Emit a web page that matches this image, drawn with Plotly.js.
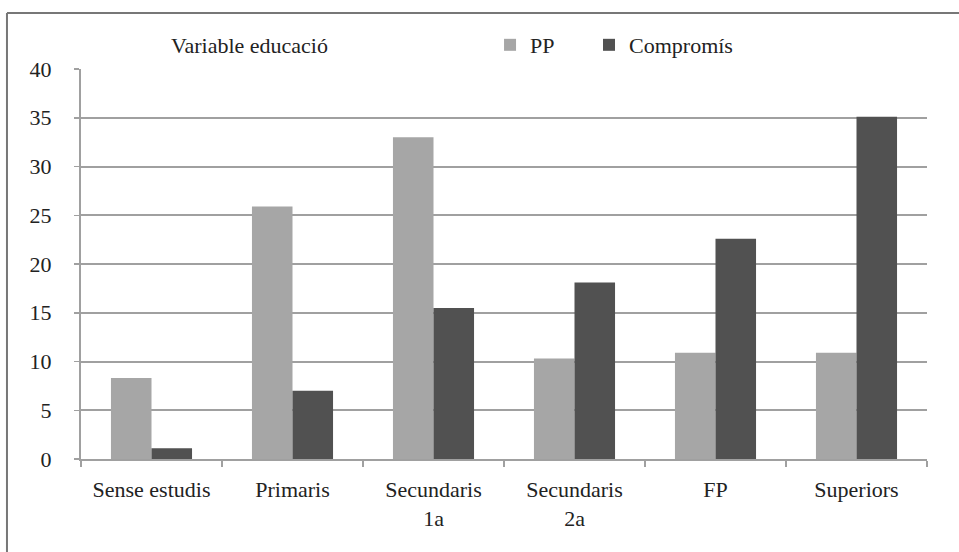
<!DOCTYPE html>
<html>
<head>
<meta charset="utf-8">
<script src="https://cdn.plot.ly/plotly-3.0.1.min.js"></script>
<style>
html,body{margin:0;padding:0;background:#fff;}
#chart{width:959px;height:552px;}
</style>
</head>
<body>
<div id="chart"></div>
<script>
const categories = ["Sense estudis", "Primaris", "Secundaris<br>1a", "Secundaris<br>2a", "FP", "Superiors"];
const ppValues = [8.3, 25.9, 33.0, 10.3, 10.9, 10.9];
const compromisValues = [1.1, 7.0, 15.5, 18.1, 22.6, 35.1];
const yTicks = [0, 5, 10, 15, 20, 25, 30, 35, 40];
const seriesNames = ["PP", "Compromís"];
const chartTitle = "Variable educació";

const font = "Liberation Serif";
const fs = 22;
const textColor = "#222";

const traces = [
  {type: "bar", name: seriesNames[0], x: categories, y: ppValues,
   marker: {color: "#a6a6a6"}, legend: "legend"},
  {type: "bar", name: seriesNames[1], x: categories, y: compromisValues,
   marker: {color: "#515151"}, legend: "legend2"}
];

const legendBase = {orientation: "h", xanchor: "left", y: 1.0615, yanchor: "middle",
  font: {family: font, size: fs, color: textColor}, bgcolor: "rgba(0,0,0,0)"};

const layout = {
  width: 959, height: 552,
  margin: {l: 81, r: 32, t: 69, b: 93},
  paper_bgcolor: "#ffffff", plot_bgcolor: "#ffffff",
  font: {family: font, size: fs, color: textColor},
  barmode: "group", bargap: 0.425, bargroupgap: 0,
  showlegend: true,
  legend: Object.assign({}, legendBase, {x: 0.4835}),
  legend2: Object.assign({}, legendBase, {x: 0.6005}),
  xaxis: {type: "category", showgrid: false, showline: true, linecolor: "#a0a0a0", linewidth: 2,
          ticks: "outside", tickson: "boundaries", ticklen: 6, tickcolor: "#a0a0a0", tickwidth: 1.5,
          tickfont: {family: font, size: fs, color: textColor}, ticklabelstandoff: 10,
          fixedrange: true},
  yaxis: {range: [0, 40], tickvals: yTicks, ticktext: yTicks.map(String),
          showgrid: true, gridcolor: "#a0a0a0", gridwidth: 2, zeroline: false,
          showline: true, linecolor: "#a0a0a0", linewidth: 2,
          ticks: "outside", ticklen: 5, tickcolor: "#a0a0a0", tickwidth: 1.5,
          tickfont: {family: font, size: fs, color: textColor}, ticklabelstandoff: 18,
          fixedrange: true},
  annotations: [
    {text: chartTitle, xref: "paper", yref: "paper", x: 0.104, y: 1.0615,
     xanchor: "left", yanchor: "middle", showarrow: false,
     font: {family: font, size: fs, color: textColor}}
  ],
  shapes: [
    {type: "line", xref: "paper", yref: "paper", x0: -0.0875, x1: -0.0875, y0: -0.3, y1: 1.1436,
     line: {color: "#777", width: 2}},
    {type: "line", xref: "paper", yref: "paper", x0: -0.0875, x1: 1.1, y0: 1.1436, y1: 1.1436,
     line: {color: "#777", width: 2}}
  ]
};

Plotly.newPlot("chart", traces, layout, {staticPlot: true, displayModeBar: false});
</script>
</body>
</html>
